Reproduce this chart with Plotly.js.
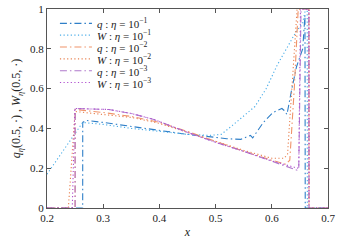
<!DOCTYPE html>
<html>
<head>
<meta charset="utf-8">
<script src="https://cdn.plot.ly/plotly-3.0.1.min.js"></script>
<style>html,body{margin:0;padding:0;background:#fff;}#chart{width:352px;height:242px;}</style>
</head>
<body>
<div id="chart"></div>
<script>
// Series names
const seriesNames = [
  "<i>q</i> : <i>η</i> = 10<sup>−1</sup>",
  "<i>W</i> : <i>η</i> = 10<sup>−1</sup>",
  "<i>q</i> : <i>η</i> = 10<sup>−2</sup>",
  "<i>W</i> : <i>η</i> = 10<sup>−2</sup>",
  "<i>q</i> : <i>η</i> = 10<sup>−3</sup>",
  "<i>W</i> : <i>η</i> = 10<sup>−3</sup>"
];

// q, eta = 1e-1
const xQ1 = [0.2, 0.2635, 0.2636, 0.27, 0.3, 0.35, 0.4, 0.45, 0.5, 0.52, 0.545, 0.558, 0.562, 0.566, 0.575, 0.585, 0.602, 0.618, 0.622, 0.627, 0.635, 0.644, 0.655, 0.659, 0.6595, 0.7];
const yQ1 = [0, 0, 0.43, 0.44, 0.43, 0.41, 0.39, 0.37, 0.355, 0.348, 0.345, 0.36, 0.365, 0.352, 0.39, 0.43, 0.48, 0.50, 0.49, 0.47, 0.59, 0.71, 0.80, 0.97, 0, 0];

// W, eta = 1e-1
const xW1 = [0.2, 0.2635, 0.3, 0.35, 0.4, 0.45, 0.49, 0.51, 0.53, 0.56, 0.57, 0.59, 0.61, 0.643, 0.655, 0.66, 0.663, 0.6632, 0.7];
const yW1 = [0.17, 0.43, 0.42, 0.40, 0.385, 0.37, 0.365, 0.37, 0.415, 0.49, 0.51, 0.60, 0.72, 0.885, 0.93, 1, 1, 0, 0];

// q, eta = 1e-2
const xQ2 = [0.2, 0.25, 0.2501, 0.3, 0.35, 0.4, 0.45, 0.5, 0.55, 0.6, 0.625, 0.632, 0.64, 0.647, 0.666, 0.6662, 0.7];
const yQ2 = [0, 0, 0.495, 0.48, 0.46, 0.43, 0.385, 0.335, 0.285, 0.24, 0.22, 0.24, 0.6, 1, 1, 0, 0];

// W, eta = 1e-2
const xW2 = [0.2, 0.238, 0.243, 0.25, 0.3, 0.35, 0.4, 0.45, 0.5, 0.55, 0.6, 0.622, 0.628, 0.638, 0.645, 0.666, 0.6662, 0.7];
const yW2 = [0, 0, 0.2, 0.485, 0.47, 0.455, 0.425, 0.38, 0.335, 0.29, 0.25, 0.25, 0.27, 0.7, 1, 1, 0, 0];

// q, eta = 1e-3
const xQ3 = [0.2, 0.25, 0.2501, 0.31, 0.35, 0.39, 0.45, 0.5, 0.55, 0.6, 0.645, 0.648, 0.652, 0.666, 0.6662, 0.7];
const yQ3 = [0, 0, 0.5, 0.495, 0.475, 0.445, 0.38, 0.33, 0.285, 0.237, 0.19, 0.2, 1, 1, 0, 0];

// W, eta = 1e-3
const xW3 = [0.2, 0.245, 0.2495, 0.31, 0.35, 0.39, 0.45, 0.5, 0.55, 0.6, 0.646, 0.648, 0.651, 0.666, 0.6662, 0.7];
const yW3 = [0, 0, 0.5, 0.495, 0.475, 0.445, 0.38, 0.33, 0.285, 0.237, 0.2, 0.21, 1, 1, 0, 0];

const xTicks = [0.2, 0.3, 0.4, 0.5, 0.6, 0.7];
const xTickText = ["0.2", "0.3", "0.4", "0.5", "0.6", "0.7"];
const yTicks = [0, 0.2, 0.4, 0.6, 0.8, 1];
const yTickText = ["0", "0.2", "0.4", "0.6", "0.8", "1"];

const DASHDOT = "7px,3px,1.5px,3px";
const DOT = "1.2px,2.4px";

const styles = [
  {color: "#2F7FC8", dash: DASHDOT},
  {color: "#4AADE8", dash: DOT},
  {color: "#F0946A", dash: DASHDOT},
  {color: "#E8804F", dash: DOT},
  {color: "#B07ACC", dash: DASHDOT},
  {color: "#B04FD0", dash: DOT}
];
const xs = [xQ1, xW1, xQ2, xW2, xQ3, xW3];
const ys = [yQ1, yW1, yQ2, yW2, yQ3, yW3];

const traces = xs.map((x, i) => ({
  x: x, y: ys[i], type: "scatter", mode: "lines",
  name: seriesNames[i], showlegend: false,
  line: {color: styles[i].color, dash: styles[i].dash, width: 1.1}
}));

const fontFam = "Liberation Serif, DejaVu Serif, serif";

// Manual legend (compact row spacing like the reference)
const legTop = 0.928, legStep = 0.0595;
const shapes = [], annotations = [];
seriesNames.forEach((nm, i) => {
  const yy = legTop - i * legStep;
  shapes.push({type: "line", xref: "paper", yref: "paper", x0: 0.046, x1: 0.16, y0: yy, y1: yy,
    line: {color: styles[i].color, dash: styles[i].dash, width: 1.1}});
  annotations.push({xref: "paper", yref: "paper", x: 0.17, y: yy, xanchor: "left", yanchor: "middle",
    text: nm, showarrow: false, font: {family: fontFam, size: 11, color: "#222"}});
});

const layout = {
  width: 352, height: 242,
  margin: {l: 47, r: 24, t: 9, b: 34},
  paper_bgcolor: "#fff", plot_bgcolor: "#fff",
  font: {family: fontFam, size: 11, color: "#222"},
  showlegend: false,
  shapes: shapes,
  annotations: annotations,
  xaxis: {
    range: [0.2, 0.7], tickvals: xTicks, ticktext: xTickText,
    showline: true, linecolor: "#555", linewidth: 1, mirror: "ticks",
    ticks: "inside", ticklen: 4, tickcolor: "#555",
    showgrid: false, zeroline: false,
    title: {text: "<i>x</i>", font: {family: fontFam, size: 12}, standoff: 4}
  },
  yaxis: {
    range: [0, 1], tickvals: yTicks, ticktext: yTickText,
    showline: true, linecolor: "#555", linewidth: 1, mirror: "ticks",
    ticks: "inside", ticklen: 4, tickcolor: "#555",
    showgrid: false, zeroline: false,
    title: {text: "<i>q</i><sub><i>η</i></sub>(0.5, ·) , <i>W</i><sub><i>η</i></sub>(0.5, ·)", font: {family: fontFam, size: 12}, standoff: 6}
  }
};

Plotly.newPlot("chart", traces, layout, {displayModeBar: false, staticPlot: true});
</script>
</body>
</html>
